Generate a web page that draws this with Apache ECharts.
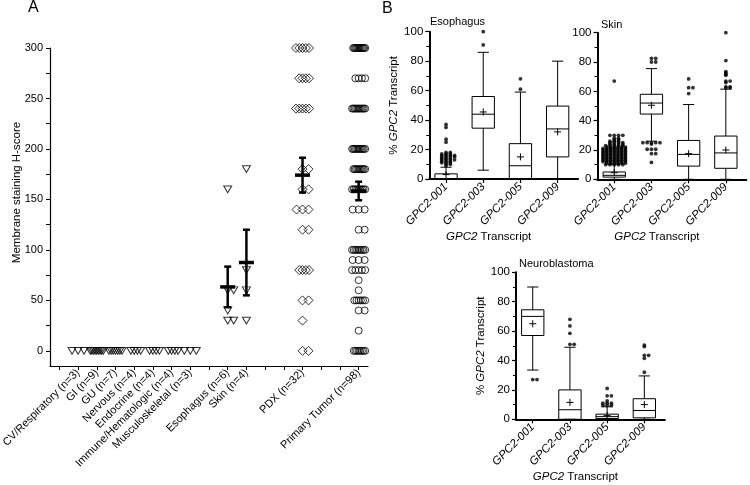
<!DOCTYPE html>
<html><head><meta charset="utf-8">
<script src="https://cdn.jsdelivr.net/npm/echarts@6/dist/echarts.min.js"></script>
<style>html,body{margin:0;padding:0;background:#fff}#c{width:750px;height:485px}</style>
</head><body><div id="c"></div>
<script>
// ---------- Panel A data ----------
const categoriesA = ['', 'CV/Respiratory (n=3)', 'GI (n=9)', 'GU (n=7)', 'Nervous (n=4)', 'Endocrine (n=4)',
  'Immune/Hematologic (n=4)', 'Musculoskeletal (n=3)', '', 'Esophagus (n=6)', 'Skin (n=4)', '', '',
  'PDX (n=32)', '', '', 'Primary Tumor (n=98)'];
const yLabelsA = [0, 50, 100, 150, 200, 250, 300];
const yTicksA = [0, 25, 50, 75, 100, 125, 150, 175, 200, 225, 250, 275, 300];
const cvValues = [0, 0, 0];
const giValues = [0, 0, 0, 0, 0, 0, 0, 0, 0];
const guValues = [0, 0, 0, 0, 0, 0, 0];
const nervousValues = [0, 0, 0, 0];
const endocrineValues = [0, 0, 0, 0];
const immuneValues = [0, 0, 0, 0];
const muscValues = [0, 0, 0];
const esophagusValues = [160, 60, 60, 40, 30, 30];
const skinValues = [180, 80, 60, 30];
const pdxValues = [300, 300, 300, 300, 300, 270, 270, 270, 270, 240, 240, 240, 240, 240, 180, 180, 160, 160,
  140, 140, 140, 120, 120, 80, 80, 80, 80, 50, 50, 30, 0, 0];
const primaryValues = [300, 300, 300, 300, 300, 300, 300, 300, 300, 300, 300, 300,
  270, 270, 270, 270,
  240, 240, 240, 240, 240, 240, 240, 240, 240, 240, 240,
  200, 200, 200, 200, 200, 200, 200, 200, 200, 200, 200,
  180, 180, 180, 180, 180, 180, 180, 180, 180, 180,
  160, 160, 160, 160, 160, 160, 160, 160, 160,
  140, 140, 140, 120, 120,
  100, 100, 100, 100, 100, 100, 100, 100, 100,
  90, 90, 90, 80, 80, 80, 80, 80, 70, 60,
  50, 50, 50, 50, 50, 50, 40, 40, 20,
  0, 0, 0, 0, 0, 0, 0, 0];

// ---------- Panel B data ----------
const transcripts = ['GPC2-001', 'GPC2-003', 'GPC2-005', 'GPC2-009'];
const esoMin = [0, 6, 0, 0];
const esoQ1 = [0, 34.5, 0, 15];
const esoMedian = [0, 44, 9, 34];
const esoQ3 = [3.5, 56, 24, 49.5];
const esoMax = [8, 86, 59, 80];
const esoMean = [3, 45.5, 15, 32];
const esoOutliers = [
  [37, 35, 27, 25, 18, 18, 17, 17, 17, 16, 16, 16, 16, 15, 15, 15, 15, 14, 14, 14, 13, 13, 13, 13, 12, 12, 12, 11, 11, 11, 10, 10, 9],
  [100, 91], [68, 61], []];
const skinMin = [0, 26, 0, 0];
const skinQ1 = [1.5, 44.5, 9, 7.5];
const skinMedian = [2.7, 52, 17, 18];
const skinQ3 = [5, 58, 26.5, 29.5];
const skinMax = [10, 75.5, 51, 61.5];
const skinMean = [4.5, 50.5, 17.5, 20];
const skinOutliers = [
  [67, 30, 30, 30, 30, 28, 28, 27, 27, 26, 26, 26, 25, 25, 25, 25, 24, 24, 24, 24, 23, 23, 23, 23, 23,
   22, 22, 22, 22, 22, 22, 21, 21, 21, 21, 21, 21, 21, 20, 20, 20, 20, 20, 20, 20,
   19, 19, 19, 19, 19, 19, 19, 18, 18, 18, 18, 18, 18, 18, 17, 17, 17, 17, 17, 17, 17,
   16, 16, 16, 16, 16, 16, 16, 15, 15, 15, 15, 15, 15, 15, 14, 14, 14, 14, 14, 14, 14,
   13, 13, 13, 13, 13, 13, 13, 12, 12, 12, 12, 12, 12, 12, 11, 11, 11, 11, 11, 11, 10, 10, 10, 10, 10],
  [82.5, 82.5, 80, 80, 25, 25, 25, 25, 25, 24, 20.5, 20.5, 20.5, 17.5, 17.5, 11.5],
  [68.5, 62.5, 62.5, 58.5],
  [100, 81, 73.5, 72.5, 71.5, 71, 67, 67, 66, 63, 63, 62.5, 62.5]];
const neuroMin = [33.5, 0, 0, 0];
const neuroQ1 = [57, 0, 0.5, 1];
const neuroMedian = [70, 6.5, 1.8, 6];
const neuroQ3 = [74.5, 20, 3.5, 14];
const neuroMax = [90, 49, 8.5, 29.5];
const neuroMean = [65, 11.5, 2.5, 10];
const neuroOutliers = [
  [27, 27],
  [68, 63.5, 58.5, 51, 51],
  [21, 16, 16, 12.5, 11, 11, 11, 9.5, 9.5, 9.5],
  [50.5, 49.5, 43.5, 43.5, 41.5, 32]];

// ---------- helpers ----------
const FONT = '"Liberation Sans", Arial, Helvetica, sans-serif';

function spread(values, center, step, maxHalf) {
  const counts = new Map();
  values.forEach(v => counts.set(v, (counts.get(v) || 0) + 1));
  const out = [];
  counts.forEach((n, v) => {
    const kmax = Math.ceil((n - 1) / 2);
    const s = kmax > 0 ? Math.min(step, maxHalf / kmax) : 0;
    for (let j = 0; j < n; j++) {
      const k = j === 0 ? 0 : (j % 2 === 1 ? (j + 1) / 2 : -j / 2);
      out.push([center + k * s, v]);
    }
  });
  return out;
}
function meanSem(vals) {
  const n = vals.length;
  const m = vals.reduce((a, b) => a + b, 0) / n;
  const sd = Math.sqrt(vals.reduce((a, b) => a + (b - m) * (b - m), 0) / (n - 1));
  return [m, sd / Math.sqrt(n)];
}

const triGroups = [
  ['CV/Respiratory (n=3)', cvValues], ['GI (n=9)', giValues], ['GU (n=7)', guValues],
  ['Nervous (n=4)', nervousValues], ['Endocrine (n=4)', endocrineValues],
  ['Immune/Hematologic (n=4)', immuneValues], ['Musculoskeletal (n=3)', muscValues],
  ['Esophagus (n=6)', esophagusValues], ['Skin (n=4)', skinValues]];
const STEP_A = 0.32, HALF_A = 0.35;
let triData = [];
triGroups.forEach(([name, vals]) => { triData = triData.concat(spread(vals, categoriesA.indexOf(name), STEP_A, HALF_A)); });
const diaData = spread(pdxValues, categoriesA.indexOf('PDX (n=32)'), STEP_A, HALF_A);
const cirData = spread(primaryValues, categoriesA.indexOf('Primary Tumor (n=98)'), STEP_A, HALF_A);

const errGroups = triGroups.concat([['PDX (n=32)', pdxValues], ['Primary Tumor (n=98)', primaryValues]]);
const errData = [];
errGroups.forEach(([name, vals]) => {
  const [m, s] = meanSem(vals);
  if (s > 0) errData.push([categoriesA.indexOf(name), m, s]);
});

function errRender(params, api) {
  const x = api.value(0), m = api.value(1), s = api.value(2);
  const pm = api.coord([x, m]), pt = api.coord([x, m + s]), pb = api.coord([x, m - s]);
  const st = { stroke: '#000', lineWidth: 2.5 };
  return { type: 'group', children: [
    { type: 'line', shape: { x1: pm[0], y1: pt[1], x2: pm[0], y2: pb[1] }, style: st },
    { type: 'line', shape: { x1: pm[0] - 3.5, y1: pt[1], x2: pm[0] + 3.5, y2: pt[1] }, style: st },
    { type: 'line', shape: { x1: pm[0] - 3.5, y1: pb[1], x2: pm[0] + 3.5, y2: pb[1] }, style: st },
    { type: 'line', shape: { x1: pm[0] - 7.5, y1: pm[1], x2: pm[0] + 7.5, y2: pm[1] }, style: { stroke: '#000', lineWidth: 3.5 } }
  ] };
}

function boxRender(params, api) {
  const x = api.value(0);
  const c = i => api.coord([x, api.value(i)]);
  const pMin = c(1), pQ1 = c(2), pMed = c(3), pQ3 = c(4), pMax = c(5), pMean = c(6);
  const hw = api.size([0.6, 0])[0] / 2, cw = hw / 2, cx = pMin[0];
  const st = { stroke: '#000', lineWidth: 1, fill: null };
  return { type: 'group', children: [
    { type: 'rect', shape: { x: cx - hw, y: pQ3[1], width: 2 * hw, height: pQ1[1] - pQ3[1] }, style: { stroke: '#000', lineWidth: 1, fill: 'rgba(0,0,0,0)' } },
    { type: 'line', shape: { x1: cx - hw, y1: pMed[1], x2: cx + hw, y2: pMed[1] }, style: st },
    { type: 'line', shape: { x1: cx, y1: pQ3[1], x2: cx, y2: pMax[1] }, style: st },
    { type: 'line', shape: { x1: cx - cw, y1: pMax[1], x2: cx + cw, y2: pMax[1] }, style: st },
    { type: 'line', shape: { x1: cx, y1: pQ1[1], x2: cx, y2: pMin[1] }, style: st },
    { type: 'line', shape: { x1: cx - cw, y1: pMin[1], x2: cx + cw, y2: pMin[1] }, style: st },
    { type: 'line', shape: { x1: cx - 3.5, y1: pMean[1], x2: cx + 3.5, y2: pMean[1] }, style: st },
    { type: 'line', shape: { x1: cx, y1: pMean[1] - 3.5, x2: cx, y2: pMean[1] + 3.5 }, style: st }
  ] };
}

function boxRows(mn, q1, md, q3, mx, me) {
  return transcripts.map((t, i) => [i, mn[i], q1[i], md[i], q3[i], mx[i], me[i]]);
}
function outlierPts(outs) {
  let pts = [];
  outs.forEach((vals, i) => { pts = pts.concat(spread(vals, i, 0.115, 0.3)); });
  return pts;
}

const boxPanels = [
  { rows: boxRows(esoMin, esoQ1, esoMedian, esoQ3, esoMax, esoMean), outs: outlierPts(esoOutliers) },
  { rows: boxRows(skinMin, skinQ1, skinMedian, skinQ3, skinMax, skinMean), outs: outlierPts(skinOutliers) },
  { rows: boxRows(neuroMin, neuroQ1, neuroMedian, neuroQ3, neuroMax, neuroMean), outs: outlierPts(neuroOutliers) }
];

// ---------- grids & axes ----------
const gridA = { left: 50, top: 48, width: 318, height: 318 };
const gridsB = [
  { left: 429.3, top: 31.7, width: 148.8, height: 147.3 },
  { left: 597.5, top: 32.7, width: 148.8, height: 146.6 },
  { left: 516, top: 272.3, width: 148.8, height: 147 }
];
const xNameGapB = [47, 47, 51];
const yNamesB = ['% {i|GPC2} Transcript', '', '% {i|GPC2} Transcript'];

const xAxes = [{
  type: 'value', gridIndex: 0, min: -0.5, max: 16.5,
  axisLine: { onZero: false, lineStyle: { color: '#000', width: 1.2 } },
  axisTick: { customValues: categoriesA.map((c, i) => i), length: 4, lineStyle: { color: '#000', width: 1 } },
  axisLabel: { customValues: categoriesA.map((c, i) => c ? i : -1).filter(i => i >= 0),
    formatter: v => categoriesA[v], rotate: 45, fontSize: 11, margin: 5, color: '#000', fontFamily: FONT },
  splitLine: { show: false }
}];
const yAxes = [{
  type: 'value', gridIndex: 0, min: -15, max: 300, position: 'left',
  axisLine: { show: true, onZero: false, lineStyle: { color: '#000', width: 1.2 } },
  axisTick: { show: true, customValues: yTicksA, length: 4, lineStyle: { color: '#000', width: 1 } },
  axisLabel: { customValues: yLabelsA, fontSize: 11, margin: 7, color: '#000', fontFamily: FONT },
  splitLine: { show: false }
}];
gridsB.forEach((g, k) => {
  xAxes.push({
    type: 'value', gridIndex: k + 1, min: -0.45, max: 3.55,
    axisLine: { onZero: false, lineStyle: { color: '#000', width: 2 } },
    axisTick: { customValues: [0, 1, 2, 3], length: 4, lineStyle: { color: '#000', width: 1.2 } },
    axisLabel: { customValues: [0, 1, 2, 3], formatter: v => transcripts[v], rotate: 45, fontSize: 11.5,
      fontStyle: 'italic', margin: 6, color: '#000', fontFamily: FONT },
    splitLine: { show: false },
    name: '{i|GPC2} Transcript', nameLocation: 'middle', nameGap: xNameGapB[k],
    nameTextStyle: { fontSize: 11.5, color: '#000', fontFamily: FONT, padding: [0, 30, 0, 0],
      rich: { i: { fontStyle: 'italic', fontSize: 11.5, fontFamily: FONT, color: '#000' } } }
  });
  yAxes.push({
    type: 'value', gridIndex: k + 1, min: 0, max: 100, interval: 20, position: 'left',
    axisLine: { show: true, onZero: false, lineStyle: { color: '#000', width: 2 } },
    axisTick: { show: true, length: 4, lineStyle: { color: '#000', width: 1.2 } },
    minorTick: { show: true, splitNumber: 2, length: 3, lineStyle: { color: '#000', width: 1 } },
    axisLabel: { fontSize: 11.5, margin: 6, color: '#000', fontFamily: FONT },
    splitLine: { show: false },
    name: yNamesB[k], nameLocation: 'middle', nameGap: 22, nameRotate: 90,
    nameTextStyle: { fontSize: 11.5, color: '#000', fontFamily: FONT,
      rich: { i: { fontStyle: 'italic', fontSize: 11.5, fontFamily: FONT, color: '#000' } } }
  });
});

const series = [
  { type: 'scatter', xAxisIndex: 0, yAxisIndex: 0, data: triData, symbol: 'triangle', symbolRotate: 180,
    symbolSize: [8, 6.8], itemStyle: { color: 'rgba(255,255,255,0)', borderColor: '#000', borderWidth: 1 }, z: 2 },
  { type: 'scatter', xAxisIndex: 0, yAxisIndex: 0, data: diaData, symbol: 'diamond',
    symbolSize: 9, itemStyle: { color: 'rgba(255,255,255,0)', borderColor: '#000', borderWidth: 1 }, z: 2 },
  { type: 'scatter', xAxisIndex: 0, yAxisIndex: 0, data: cirData, symbol: 'circle',
    symbolSize: 7, itemStyle: { color: 'rgba(255,255,255,0)', borderColor: '#000', borderWidth: 1 }, z: 2 },
  { type: 'custom', xAxisIndex: 0, yAxisIndex: 0, data: errData, renderItem: errRender, z: 3 }
];
boxPanels.forEach((p, k) => {
  series.push({ type: 'custom', xAxisIndex: k + 1, yAxisIndex: k + 1, data: p.rows, renderItem: boxRender, z: 2 });
  series.push({ type: 'scatter', xAxisIndex: k + 1, yAxisIndex: k + 1, data: p.outs, symbol: 'circle',
    symbolSize: 3.8, itemStyle: { color: '#000' }, z: 3 });
});

const tStyle = (s) => ({ fontSize: s, fontWeight: 'normal', color: '#000', fontFamily: FONT });
const option = {
  animation: false,
  backgroundColor: '#fff',
  textStyle: { fontFamily: FONT, color: '#000' },
  title: [
    { text: 'A', left: 28, top: 0, padding: 0, textStyle: tStyle(16) },
    { text: 'B', left: 382, top: 1, padding: 0, textStyle: tStyle(16) },
    { text: 'Esophagus', left: 430, top: 16, padding: 0, textStyle: tStyle(11) },
    { text: 'Skin', left: 601, top: 19, padding: 0, textStyle: tStyle(11) },
    { text: 'Neuroblastoma', left: 519, top: 258, padding: 0, textStyle: tStyle(11) }
  ],
  graphic: [{
    type: 'text', x: 17, y: 192.5, rotation: Math.PI / 2,
    style: { text: 'Membrane staining H-score', fill: '#000', font: '11.5px ' + FONT,
      align: 'center', verticalAlign: 'middle' }
  }],
  grid: [gridA].concat(gridsB).map(g => Object.assign({ outerBoundsMode: 'none' }, g)),
  xAxis: xAxes,
  yAxis: yAxes,
  series: series
};
const chart = echarts.init(document.getElementById('c'), null, { renderer: 'canvas' });
chart.setOption(option);
</script></body></html>
